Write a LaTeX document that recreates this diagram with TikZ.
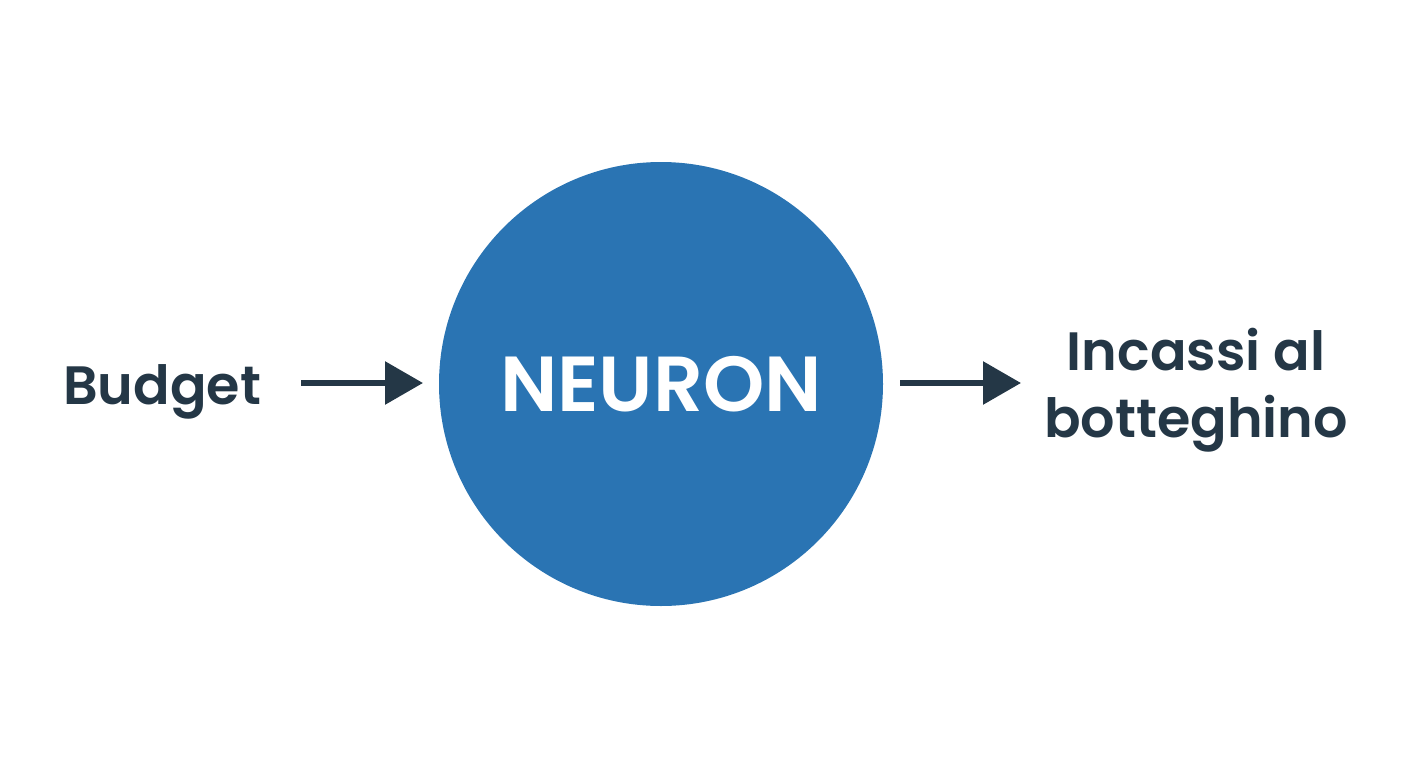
\documentclass[tikz,border=0pt]{standalone}
\usepackage{fontspec}
\setmainfont{Poppins}[BoldFont={* SemiBold}]
\usetikzlibrary{arrows.meta}
\definecolor{neuronblue}{HTML}{2A74B3}
\definecolor{ink}{HTML}{243746}
\tikzset{
  lbl/.style={font=\fontsize{54}{67}\selectfont\bfseries, text=ink, align=center, inner sep=0pt, anchor=base},
  neuron/.style={circle, fill=neuronblue, minimum size=444pt, inner sep=0pt,
    font=\fontsize{78}{80}\selectfont\bfseries, text=white},
  conn/.style={draw=ink, line width=6pt, -{Triangle[length=38pt,width=42pt]}, shorten >=0pt}
}
\begin{document}
\begin{tikzpicture}[x=1pt,y=-1pt]
\useasboundingbox (0,0) rectangle (1408,768);
\node[neuron] (n) at (661,384) {NEURON};
\node[lbl] (b) at (162,404) {Budget};
\node[lbl] (o) at (1196,437) {Incassi al\\botteghino};
\coordinate (a1) at (301,383);
\coordinate (a2) at (423,383);
\coordinate (c1) at (900,383);
\coordinate (c2) at (1021,383);
\draw[conn] (a1) -- (a2);
\draw[conn] (c1) -- (c2);
\end{tikzpicture}
\end{document}
